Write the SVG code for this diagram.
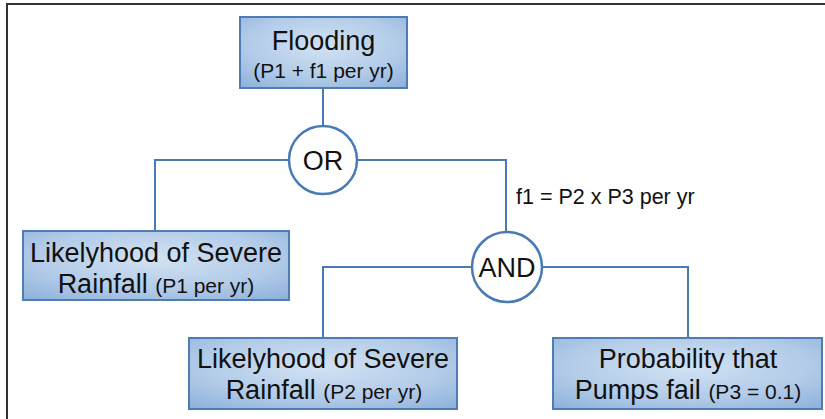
<svg xmlns="http://www.w3.org/2000/svg" width="825" height="419" viewBox="0 0 825 419">
  <defs>
    <radialGradient id="boxFill" cx="50%" cy="40%" r="75%">
      <stop offset="0" stop-color="#d2e2f3"/>
      <stop offset="0.6" stop-color="#b2cbe8"/>
      <stop offset="1" stop-color="#8fb2dc"/>
    </radialGradient>
    <style>
      .box { fill: url(#boxFill); stroke: #4f7db3; stroke-width: 2; }
      .gate { fill: #ffffff; stroke: #4a7ab4; stroke-width: 2.5; }
      .wire { fill: none; stroke: #4a7ab4; stroke-width: 2; }
      .frame { fill: none; stroke: #333333; stroke-width: 2; }
      text { font-family: "Liberation Sans", Arial, sans-serif; fill: #111111; text-anchor: middle; }
      .big { font-size: 27px; }
      .small { font-size: 21px; }
      .note { font-size: 21.5px; text-anchor: start; }
    </style>
  </defs>

  <!-- page frame -->
  <path class="frame" d="M7,419 V4 H825"/>

  <!-- connectors -->
  <g id="connectors">
    <path class="wire" d="M323,88 V126"/>
    <path class="wire" d="M289,160 H155 V231"/>
    <path class="wire" d="M357,160 H506 V232"/>
    <path class="wire" d="M472,267 H323 V338"/>
    <path class="wire" d="M542,267 H688 V338"/>
  </g>

  <!-- top event -->
  <g id="flooding">
    <rect class="box" x="240" y="17" width="167" height="71"/>
    <text class="big" x="323.5" y="50">Flooding</text>
    <text class="small" x="323.5" y="78">(P1 + f1 per yr)</text>
  </g>

  <g id="or-gate">
    <circle class="gate" cx="323" cy="160" r="34"/>
    <text class="big" x="323" y="169.5">OR</text>
  </g>

  <g id="rainfall-p1">
    <rect class="box" x="23" y="231" width="266" height="69"/>
    <text class="big" x="156" y="262">Likelyhood of Severe</text>
    <text x="156" y="293"><tspan class="big">Rainfall </tspan><tspan class="small">(P1 per yr)</tspan></text>
  </g>

  <text class="note" x="516" y="204">f1 = P2 x P3 per yr</text>

  <g id="and-gate">
    <circle class="gate" cx="507" cy="267" r="35"/>
    <text class="big" x="507" y="276.5">AND</text>
  </g>

  <g id="rainfall-p2">
    <rect class="box" x="189" y="338" width="268" height="71"/>
    <text class="big" x="323" y="368">Likelyhood of Severe</text>
    <text x="324" y="399"><tspan class="big">Rainfall </tspan><tspan class="small">(P2 per yr)</tspan></text>
  </g>

  <g id="pumps-fail">
    <rect class="box" x="553" y="338" width="269" height="71"/>
    <text class="big" x="688" y="368">Probability that</text>
    <text x="688" y="399"><tspan class="big">Pumps fail </tspan><tspan class="small">(P3 = 0.1)</tspan></text>
  </g>
</svg>
